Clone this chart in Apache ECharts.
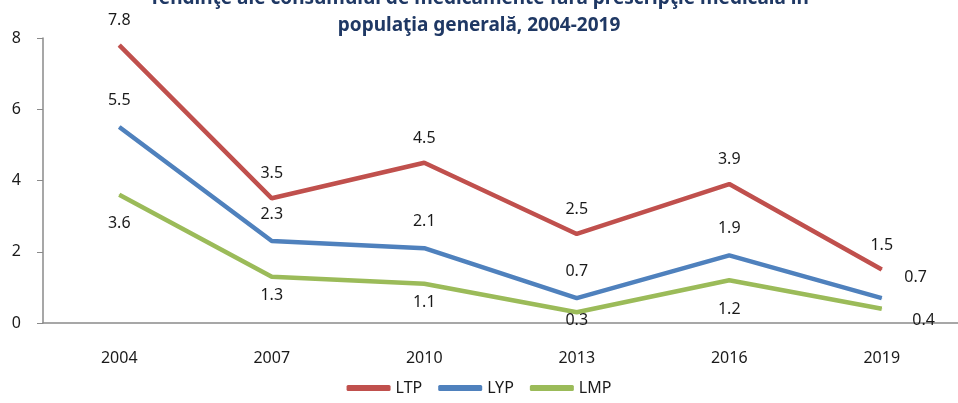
<!DOCTYPE html>
<html>
<head>
<meta charset="utf-8">
<script src="https://cdn.jsdelivr.net/npm/echarts@6/dist/echarts.min.js"></script>
<style>
  html, body { margin: 0; padding: 0; background: #fff; }
  #chart { width: 958px; height: 403px; }
</style>
</head>
<body>
<div id="chart"></div>
<script>
const years = ['2004', '2007', '2010', '2013', '2016', '2019'];
const ltp = [7.8, 3.5, 4.5, 2.5, 3.9, 1.5];
const lyp = [5.5, 2.3, 2.1, 0.7, 1.9, 0.7];
const lmp = [3.6, 1.3, 1.1, 0.3, 1.2, 0.4];
const yTicks = [0, 2, 4, 6, 8];

const font = 'Noto Sans';
const labelText = { fontFamily: font, fontSize: 16, color: '#1a1a1a' };

// label tweaks per point, the way they sit in the source picture
function withLabels(values, pos, dist, overrides) {
  return values.map((v, i) => {
    const o = overrides[i];
    return o ? { value: v, label: Object.assign({ position: pos, distance: dist }, o) } : v;
  });
}

// labels of a line series hang on its symbols, so keep them but tiny
const lineBase = { type: 'line', symbol: 'circle', symbolSize: 1, lineStyle: { width: 4.5 } };

const chart = echarts.init(document.getElementById('chart'));
chart.setOption({
  animation: false,
  title: {
    text: 'Tendinţe ale consumului de medicamente fără prescripţie medicală în\npopulaţia generală, 2004-2019',
    left: 'center',
    top: -20,
    textStyle: { fontFamily: font, fontSize: 19, fontWeight: 'bold', color: '#1F3864', lineHeight: 27 }
  },
  legend: {
    bottom: 2,
    left: 'center',
    itemWidth: 44,
    itemHeight: 6,
    itemGap: 16,
    icon: 'roundRect',
    textStyle: { fontFamily: font, fontSize: 16, color: '#1a1a1a' },
    data: ['LTP', 'LYP', 'LMP']
  },
  grid: { left: 43, right: -12, top: 38, bottom: 80, containLabel: false },
  xAxis: {
    type: 'category',
    data: years,
    boundaryGap: true,
    axisLine: { lineStyle: { color: '#8a8a8a', width: 1.5 } },
    axisTick: { show: false },
    axisLabel: { margin: 27, fontFamily: font, fontSize: 16, color: '#1a1a1a' }
  },
  yAxis: {
    type: 'value',
    min: yTicks[0],
    max: yTicks[yTicks.length - 1],
    interval: 2,
    splitLine: { show: false },
    axisLine: { show: true, lineStyle: { color: '#8a8a8a', width: 1.5 } },
    axisTick: { show: true, length: 6, lineStyle: { color: '#8a8a8a' } },
    axisLabel: { margin: 22, fontFamily: font, fontSize: 16, color: '#1a1a1a' }
  },
  series: [
    Object.assign({}, lineBase, {
      name: 'LTP', data: ltp, color: '#C0504D',
      label: Object.assign({ show: true, position: 'top', distance: 16 }, labelText)
    }),
    Object.assign({}, lineBase, {
      name: 'LYP', color: '#4F81BD',
      data: withLabels(lyp, 'top', 18, { 5: { position: 'right', offset: [4, -21] } }),
      label: Object.assign({ show: true, position: 'top', distance: 18 }, labelText)
    }),
    Object.assign({}, lineBase, {
      name: 'LMP', color: '#9BBB59',
      data: withLabels(lmp, 'bottom', 10, {
        0: { distance: 20 },
        3: { distance: 0 },
        4: { distance: 21 },
        5: { position: 'right', offset: [20, 12] }
      }),
      label: Object.assign({ show: true, position: 'bottom', distance: 10 }, labelText)
    })
  ]
});
</script>
</body>
</html>
